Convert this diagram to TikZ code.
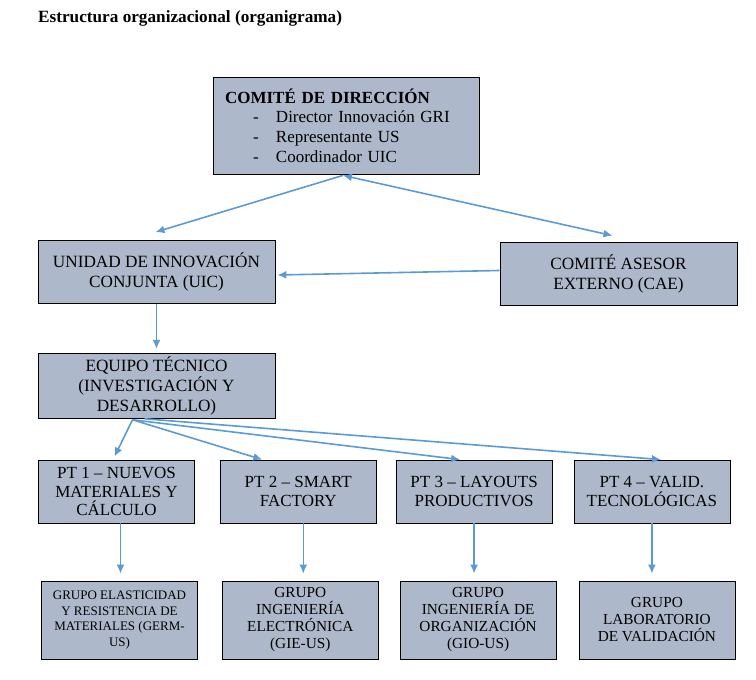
\documentclass[tikz,border=0pt]{standalone}
\usepackage{fontspec}
\setmainfont{Liberation Serif}
\usepackage{xcolor}
\usetikzlibrary{arrows.meta,positioning,calc}
\definecolor{boxfill}{HTML}{ADB9CA}
\definecolor{arrowblue}{HTML}{5B9BD5}

\begin{document}
\begin{tikzpicture}[
  x=1pt, y=-1pt,
  flow/.style={-{Latex[length=9pt,width=8pt]}, line width=1.6pt, draw=arrowblue},
  twoway/.style={flow, {Latex[length=9pt,width=8pt]}-{Latex[length=9pt,width=8pt]}},
  unit/.style={
    draw=black,
    line width=0.8pt,
    fill=boxfill,
    minimum width=237pt,
    minimum height=63pt,
    align=center,
    font=\fontsize{17.2}{20}\selectfont
  },
  work/.style={
    unit,
    minimum width=156pt,
    font=\fontsize{17}{18.5}\selectfont
  },
  group/.style={
    unit,
    minimum width=156pt,
    minimum height=78pt,
    font=\fontsize{15.3}{17}\selectfont
  }
]
\useasboundingbox (0,0) rectangle (756,680);

\node[anchor=west, inner sep=0pt, font=\bfseries\fontsize{17.2}{19}\selectfont] (title) at (38,18) {Estructura organizacional (organigrama)};

\node[unit, minimum width=266pt, minimum height=97pt, inner xsep=12pt, text width=242pt, align=left, font=\fontsize{17}{19.7}\selectfont] (CD) at (346,125.5)
  {\textbf{COMITÉ DE DIRECCIÓN}\\
   \hspace*{28pt}\makebox[23pt][l]{-}Director Innovación GRI\\
   \hspace*{28pt}\makebox[23pt][l]{-}Representante US\\
   \hspace*{28pt}\makebox[23pt][l]{-}Coordinador UIC};

\node[unit] (UIC) at (156.5,272) {UNIDAD DE INNOVACIÓN\\CONJUNTA (UIC)};
\node[unit] (CAE) at (618.5,273.5) {COMITÉ ASESOR\\EXTERNO (CAE)};
\node[unit, below=49pt of UIC] (ET) {EQUIPO TÉCNICO\\(INVESTIGACIÓN Y\\DESARROLLO)};

\node[work] (PT1) at (116.5,491.5) {PT 1 – NUEVOS\\MATERIALES Y\\CÁLCULO};
\node[work, right=25pt of PT1] (PT2) {PT 2 – SMART\\FACTORY};
\node[work, right=19pt of PT2] (PT3) {PT 3 – LAYOUTS\\PRODUCTIVOS};
\node[work, right=21pt of PT3] (PT4) {PT 4 – VALID.\\TECNOLÓGICAS};

\node[group, font=\fontsize{13}{15.5}\selectfont] (G1) at (119.5,620) {GRUPO ELASTICIDAD\\Y RESISTENCIA DE\\MATERIALES (GERM-\\US)};
\node[group, right=24pt of G1] (G2) {GRUPO\\INGENIERÍA\\ELECTRÓNICA\\(GIE-US)};
\node[group, right=21pt of G2] (G3) {GRUPO\\INGENIERÍA DE\\ORGANIZACIÓN\\(GIO-US)};
\node[group, right=22pt of G3] (G4) {GRUPO\\LABORATORIO\\DE VALIDACIÓN};

% top level
\draw[flow] ($(CD.south)+(-3,1)$) -- ($(UIC.north)+(-1,-8)$);
\draw[twoway] ($(CD.south)+(-3,1)$) -- ($(CAE.north)+(-6,-6)$);
\draw[flow] ($(CAE.west)+(0,-3)$) -- ($(UIC.east)+(2,3)$);
\draw[flow, shorten >=4pt] (UIC.south) -- (ET.north);

% work packages
\coordinate (ETout) at ($(ET.south)+(-24,1)$);
\draw[flow] (ETout) -- ($(PT1.north)+(-2,-3)$);
\draw[flow] (ETout) -- ($(PT2.north)+(-36,0)$);
\draw[flow] (ETout) -- ($(PT3.north)+(-14,0)$);
\draw[flow] ($(ET.south)+(-12,0)$) -- ($(PT4.north)+(9,0)$);

% groups
\draw[flow, shorten >=7pt] ([xshift=4pt]PT1.south) -- ([xshift=4pt]PT1.south |- G1.north);
\draw[flow, shorten >=7pt] ([xshift=5pt]PT2.south) -- ([xshift=5pt]PT2.south |- G2.north);
\draw[flow, shorten >=7pt] (PT3.south) -- (PT3.south |- G3.north);
\draw[flow, shorten >=7pt] (PT4.south) -- (PT4.south |- G4.north);

\end{tikzpicture}
\end{document}
